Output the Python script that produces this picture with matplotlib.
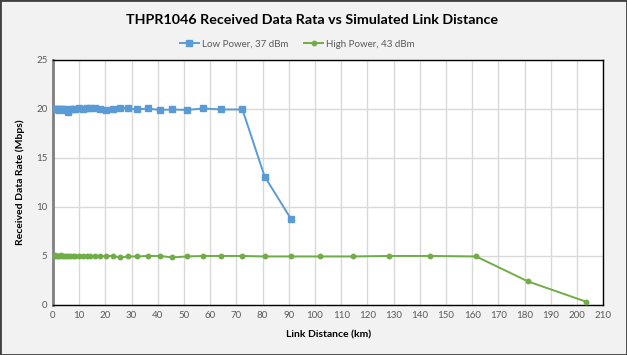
import matplotlib
matplotlib.use("Agg")
import matplotlib.pyplot as plt
from matplotlib.patches import Rectangle

plt.rcParams['font.family'] = ['Lato', 'DejaVu Sans']

low_x = [0.3, 0.8, 1.3, 1.8, 2.4, 3.0, 3.6, 4.3, 5.0, 5.8, 6.6, 7.5, 8.5, 10.0, 11.3, 13.0,
         14.1, 16.0, 17.9, 20.1, 22.8, 25.6, 28.7, 32.2, 36.1, 40.8, 45.6, 51.1, 57.4,
         64.3, 72.3, 80.8, 90.8]
low_y = [20.0, 20.0, 19.95, 20.0, 19.9, 20.0, 19.95, 20.0, 19.9, 19.7, 20.0, 19.95, 20.0, 20.05, 19.95, 20.15,
         20.05, 20.05, 20.0, 19.9, 19.95, 20.15, 20.05, 19.95, 20.05, 19.9, 19.95, 19.9, 20.05,
         19.95, 19.95, 13.1, 8.8]

high_x = [0.3, 0.8, 1.3, 1.8, 2.4, 3.0, 3.6, 4.3, 5.0, 5.8, 6.6, 7.5, 8.5, 10.0, 11.3, 13.0,
          14.1, 16.0, 17.9, 20.1, 22.8, 25.6, 28.7, 32.2, 36.1, 40.8, 45.6, 51.1, 57.4,
          64.3, 72.3, 80.8, 90.8, 101.8, 114.4, 128.1, 143.9, 161.5, 181.3, 203.3]
high_y = [4.95, 5.05, 4.95, 5.0, 4.95, 5.05, 5.0, 4.95, 5.0, 4.95, 5.0, 5.0, 4.95, 5.0, 4.95, 5.0,
          4.95, 5.0, 4.95, 5.0, 5.0, 4.85, 4.95, 4.95, 5.0, 5.0, 4.85, 4.95, 5.0,
          5.0, 5.0, 4.95, 4.95, 4.95, 4.95, 5.0, 5.0, 4.95, 2.4, 0.35]

x_ticks = list(range(0, 211, 10))
y_ticks = [0, 5, 10, 15, 20, 25]

title = "THPR1046 Received Data Rata vs Simulated Link Distance"
x_label = "Link Distance (km)"
y_label = "Received Data Rate (Mbps)"
low_label = "Low Power, 37 dBm"
high_label = "High Power, 43 dBm"

fig = plt.figure(figsize=(6.27, 3.55), dpi=100, facecolor='#f2f2f2')
fig.patches.append(Rectangle((0, 0), 1, 1, transform=fig.transFigure, fill=False,
                             edgecolor='#404040', linewidth=2.0, zorder=10))
ax = fig.add_axes([0.0845, 0.141, 0.8775, 0.690])
ax.set_facecolor('white')

blue = '#5b9bd5'
green = '#70ad47'
ax.plot(low_x, low_y, color=blue, marker='s', markersize=4.5, linewidth=1.4, label=low_label, zorder=3)
ax.plot(high_x, high_y, color=green, marker='o', markersize=3.2, linewidth=1.4, label=high_label, zorder=3)

ax.set_xlim(0, 210)
ax.set_ylim(0, 25)
ax.set_xticks(x_ticks)
ax.set_yticks(y_ticks)
ax.grid(True, color='#d9d9d9', linewidth=1.0, zorder=0)
ax.set_axisbelow(True)
ax.tick_params(axis='both', labelsize=7, colors='#595959', length=0, pad=4)
for s in ['top', 'right', 'bottom']:
    ax.spines[s].set_color('black')
    ax.spines[s].set_linewidth(1.0)
ax.spines['left'].set_color('#7f7f7f')
ax.spines['left'].set_linewidth(2.0)

ax.set_xlabel(x_label, fontsize=7.5, fontweight='bold', labelpad=8)
ax.set_ylabel(y_label, fontsize=7.5, fontweight='bold', labelpad=8)

fig.text(0.498, 0.945, title, ha='center', va='center', fontsize=10.3, fontweight='bold', color='black')
leg = fig.legend(loc='center', bbox_to_anchor=(0.474, 0.875), ncol=2, frameon=False,
                 fontsize=7, handlelength=2.0, handletextpad=0.3, columnspacing=1.6,
                 labelcolor='#595959')

fig.savefig("out.png", dpi=100, facecolor=fig.get_facecolor())
